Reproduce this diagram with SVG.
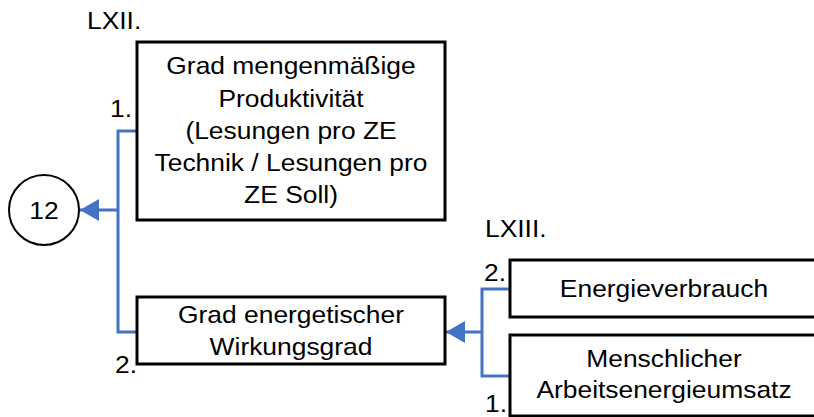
<svg xmlns="http://www.w3.org/2000/svg" width="814" height="417" viewBox="0 0 814 417">
  <style>
    .box { fill: #ffffff; stroke: #000000; stroke-width: 3; }
    .circ { fill: #ffffff; stroke: #000000; stroke-width: 2; }
    .t { font-family: "Liberation Sans", Arial, sans-serif; font-size: 24px; fill: #000000; }
    .c { text-anchor: middle; }
    .wire { fill: none; stroke: #4472C4; stroke-width: 3; }
  </style>
  <defs>
    <marker id="arrow" markerUnits="userSpaceOnUse" markerWidth="20" markerHeight="22" refX="19" refY="11" orient="auto">
      <polygon points="0,0 19,11 0,22" fill="#4472C4"/>
    </marker>
  </defs>

  <rect width="814" height="417" fill="#ffffff"/>

  <!-- connectors -->
  <g id="connectors">
    <path class="wire" d="M137,131 H118 V332 H137"/>
    <path class="wire" d="M118,210 H80" marker-end="url(#arrow)"/>
    <path class="wire" d="M510,289 H482 V376 H510"/>
    <path class="wire" d="M482,332 H446" marker-end="url(#arrow)"/>
  </g>

  <!-- result node -->
  <g id="node-12">
    <circle class="circ" cx="44" cy="210" r="35"/>
    <text class="t c" transform="translate(44,219) scale(1.1,1)">12</text>
  </g>

  <!-- group LXII -->
  <g id="label-LXII">
    <text class="t" transform="translate(87,29) scale(1.1,1)">LXII.</text>
  </g>

  <g id="node-produktivitaet">
    <rect class="box" x="137" y="42" width="308" height="178"/>
    <text class="t c" transform="translate(291,74) scale(1.1,1)">Grad mengenmäßige</text>
    <text class="t c" transform="translate(291,107) scale(1.1,1)">Produktivität</text>
    <text class="t c" transform="translate(291,139) scale(1.1,1)">(Lesungen pro ZE</text>
    <text class="t c" transform="translate(291,171) scale(1.1,1)">Technik / Lesungen pro</text>
    <text class="t c" transform="translate(291,203) scale(1.1,1)">ZE Soll)</text>
    <text class="t" transform="translate(110,117) scale(1.1,1)">1.</text>
  </g>

  <g id="node-wirkungsgrad">
    <rect class="box" x="137" y="297" width="308" height="67"/>
    <text class="t c" transform="translate(291,323) scale(1.1,1)">Grad energetischer</text>
    <text class="t c" transform="translate(291,355) scale(1.1,1)">Wirkungsgrad</text>
    <text class="t" transform="translate(115,373) scale(1.1,1)">2.</text>
  </g>

  <!-- group LXIII -->
  <g id="label-LXIII">
    <text class="t" transform="translate(485,237) scale(1.1,1)">LXIII.</text>
  </g>

  <g id="node-energieverbrauch">
    <rect class="box" x="510" y="260" width="308" height="57"/>
    <text class="t c" transform="translate(664,297) scale(1.1,1)">Energieverbrauch</text>
    <text class="t" transform="translate(484,281) scale(1.1,1)">2.</text>
  </g>

  <g id="node-arbeitsenergie">
    <rect class="box" x="510" y="335" width="308" height="81"/>
    <text class="t c" transform="translate(664,367) scale(1.1,1)">Menschlicher</text>
    <text class="t c" transform="translate(664,398) scale(1.1,1)">Arbeitsenergieumsatz</text>
    <text class="t" transform="translate(485,412) scale(1.1,1)">1.</text>
  </g>
</svg>
